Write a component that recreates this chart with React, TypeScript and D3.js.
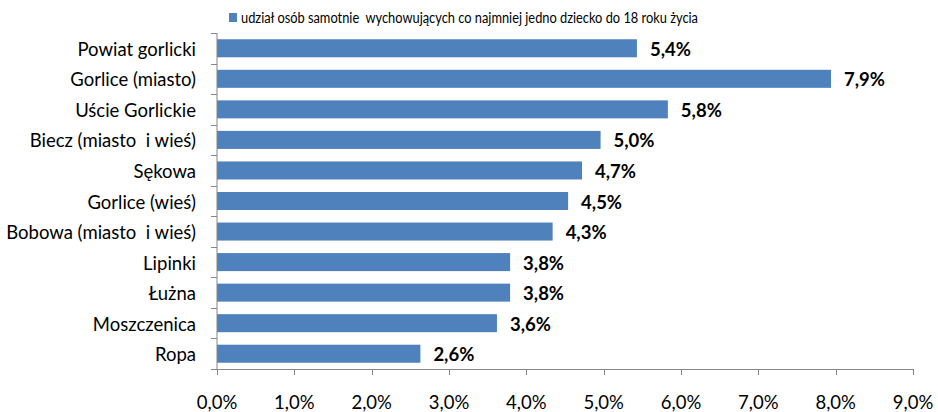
import { useEffect, useRef } from 'react';
import * as d3 from 'd3';

const categories = [
  'Powiat gorlicki',
  'Gorlice (miasto)',
  'Uście Gorlickie',
  'Biecz (miasto  i wieś)',
  'Sękowa',
  'Gorlice (wieś)',
  'Bobowa (miasto  i wieś)',
  'Lipinki',
  'Łużna',
  'Moszczenica',
  'Ropa',
];
// unrounded shares; labels show them to one decimal
const values = [5.43, 7.94, 5.83, 4.96, 4.72, 4.54, 4.34, 3.79, 3.79, 3.62, 2.63];
const xTicks = [0, 1, 2, 3, 4, 5, 6, 7, 8, 9];
const seriesName = 'udział osób samotnie  wychowujących co najmniej jedno dziecko do 18 roku życia';

const fmt = (v: number) => v.toFixed(1).replace('.', ',') + '%';

export default function App() {
  const svgRef = useRef<SVGSVGElement>(null);

  useEffect(() => {
    if (!svgRef.current) return;
    const width = 938;
    const height = 412;
    const left = 217;
    const right = 913;
    const top = 33;
    const bottom = 369;
    const font = 'Lato, "Open Sans", sans-serif';

    const svg = d3.select(svgRef.current);
    svg.selectAll('*').remove();
    svg.attr('width', width).attr('height', height).style('font-family', font);

    const x = d3.scaleLinear().domain([0, 9]).range([left, right]);
    const y = d3.scaleBand<string>().domain(categories).range([top, bottom]).paddingInner(0.41).paddingOuter(0.205);
    const band = d3.scaleBand<string>().domain(categories).range([top, bottom]);

    // legend
    svg.append('rect').attr('x', 229).attr('y', 13).attr('width', 8).attr('height', 9).attr('fill', '#4F81BD');
    svg.append('text')
      .attr('x', 241).attr('y', 22.5)
      .attr('font-size', 14.5)
      .attr('fill', '#000')
      .attr('textLength', 457)
      .attr('lengthAdjust', 'spacingAndGlyphs')
      .style('white-space', 'pre')
      .text(seriesName);

    // bars
    svg.append('g')
      .selectAll('rect')
      .data(values)
      .join('rect')
      .attr('x', x(0))
      .attr('y', (_d, i) => y(categories[i])!)
      .attr('width', (d) => x(d) - x(0))
      .attr('height', y.bandwidth())
      .attr('fill', '#4F81BD');

    // value labels
    svg.append('g')
      .selectAll('text')
      .data(values)
      .join('text')
      .attr('x', (d) => x(d) + 13)
      .attr('y', (_d, i) => y(categories[i])! + y.bandwidth() / 2 + 7.5)
      .attr('font-size', 18.5)
      .attr('font-weight', 700)
      .attr('fill', '#000')
      .text((d) => fmt(d));

    // y axis
    const axisColor = '#868686';
    svg.append('line')
      .attr('x1', left).attr('x2', left).attr('y1', top).attr('y2', bottom)
      .attr('stroke', axisColor);
    const yTickPos = [top, ...categories.map((c) => band(c)! + band.bandwidth())];
    svg.append('g')
      .selectAll('line')
      .data(yTickPos)
      .join('line')
      .attr('x1', left - 6).attr('x2', left)
      .attr('y1', (d) => Math.round(d) + 0.5).attr('y2', (d) => Math.round(d) + 0.5)
      .attr('stroke', axisColor);
    svg.append('g')
      .selectAll('text')
      .data(categories)
      .join('text')
      .attr('x', 196)
      .attr('y', (d) => band(d)! + band.bandwidth() / 2 + 7.5)
      .attr('text-anchor', 'end')
      .attr('font-size', 18.5)
      .attr('fill', '#000')
      .style('white-space', 'pre')
      .text((d) => d);

    // x axis
    svg.append('line')
      .attr('x1', left).attr('x2', right).attr('y1', bottom + 0.5).attr('y2', bottom + 0.5)
      .attr('stroke', axisColor);
    svg.append('g')
      .selectAll('line')
      .data(xTicks)
      .join('line')
      .attr('x1', (d) => Math.round(x(d)) + 0.5).attr('x2', (d) => Math.round(x(d)) + 0.5)
      .attr('y1', bottom).attr('y2', bottom + 6)
      .attr('stroke', axisColor);
    svg.append('g')
      .selectAll('text')
      .data(xTicks)
      .join('text')
      .attr('x', (d) => x(d))
      .attr('y', 409)
      .attr('text-anchor', 'middle')
      .attr('font-size', 18.5)
      .attr('fill', '#000')
      .text((d) => fmt(d));
  }, []);

  return <svg ref={svgRef} style={{ position: 'absolute', left: 0, top: 0 }} />;
}
